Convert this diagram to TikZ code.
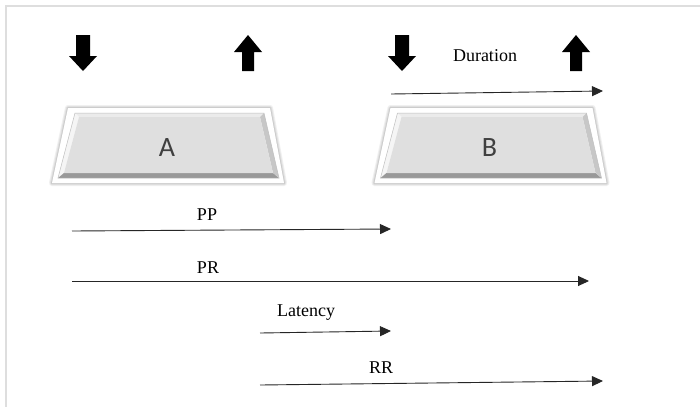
\documentclass[tikz,border=0pt]{standalone}
\usepackage{fontspec}
\setmainfont{Liberation Serif}
\newfontfamily\labfont{Carlito}
\usetikzlibrary{arrows.meta}
\definecolor{facegray}{HTML}{DFDFDF}
\definecolor{labgray}{HTML}{404040}
\tikzset{
  conn/.style={draw=black!85, line width=0.9pt, -{Triangle[length=11pt,width=10pt]}},
  lbl/.style={font=\fontsize{18}{21}\selectfont, inner sep=0pt, anchor=center},
  blocklbl/.style={font=\labfont\fontsize{28}{31}\selectfont, text=labgray, inner sep=0pt},
  blockarrow/.style={fill=black, draw=none},
}
\newcommand{\mytrap}{%
  % soft glow
  \draw[black!6, line width=6pt, line join=round] (68,108) -- (270,108) -- (284,183) -- (52,183) -- cycle;
  \draw[black!12, line width=4pt, line join=round] (68,108) -- (270,108) -- (284,183) -- (52,183) -- cycle;
  \draw[black!20, line width=2pt, line join=round] (68,108) -- (270,108) -- (284,183) -- (52,183) -- cycle;
  \fill[white] (68,108) -- (270,108) -- (284,183) -- (52,183) -- cycle;
  % bevel bands
  \fill[black!8] (75,113) -- (264,113) -- (260,117) -- (79,117) -- cycle;
  \fill[black!4] (75,113) -- (79,117) -- (64,173) -- (58,178) -- cycle;
  \fill[black!40] (58,178) -- (64,173) -- (273,173) -- (279,178) -- cycle;
  \fill[black!22] (264,113) -- (279,178) -- (273,173) -- (260,117) -- cycle;
  \fill[facegray] (79,117) -- (260,117) -- (273,173) -- (64,173) -- cycle;
  \draw[black!25, line width=0.5pt] (75,113) -- (264,113) -- (279,178) -- (58,178) -- cycle;
}
\newcommand{\downarr}[1]{%
  \fill[blockarrow] (#1-7,35) -- (#1+7,35) -- (#1+7,56) -- (#1+14,56) -- (#1,71) -- (#1-14,56) -- (#1-7,56) -- cycle;
}
\newcommand{\uparr}[1]{%
  \fill[blockarrow] (#1-6,71) -- (#1+6,71) -- (#1+6,52) -- (#1+14,52) -- (#1,35) -- (#1-14,52) -- (#1-6,52) -- cycle;
}
\begin{document}
\begin{tikzpicture}[x=1pt, y=-1pt]
\useasboundingbox (0,0) rectangle (700,407);
\fill[white] (0,0) rectangle (700,407);
% frame
\draw[black!13, line width=1.5pt] (700,6) -- (6,6) -- (6,407);

% block arrows
\downarr{83}
\uparr{248}
\downarr{402}
\uparr{576}

% trapezoids
\mytrap
\begin{scope}[xshift=322.5pt]
\mytrap
\end{scope}
\node[blocklbl] (A) at (167,148) {A};
\node[blocklbl] (B) at (489.5,148) {B};

% labels
\node[lbl] (dur) at (485,56) {Duration};
\node[lbl] (pp) at (207,215) {PP};
\node[lbl] (pr) at (208,268) {PR};
\node[lbl] (lat) at (306,313) {Latency};
\node[lbl] (rr) at (381,368) {RR};

% arrow end points
\coordinate (durS) at (391,94);  \coordinate (durE) at (603,91);
\coordinate (ppS) at (72,231);   \coordinate (ppE) at (391,229);
\coordinate (prS) at (72,281);   \coordinate (prE) at (589,281);
\coordinate (latS) at (260,333); \coordinate (latE) at (391,331);
\coordinate (rrS) at (260,385);  \coordinate (rrE) at (603,381);

\draw[conn] (durS) -- (durE);
\draw[conn] (ppS) -- (ppE);
\draw[conn] (prS) -- (prE);
\draw[conn] (latS) -- (latE);
\draw[conn] (rrS) -- (rrE);
\end{tikzpicture}
\end{document}
